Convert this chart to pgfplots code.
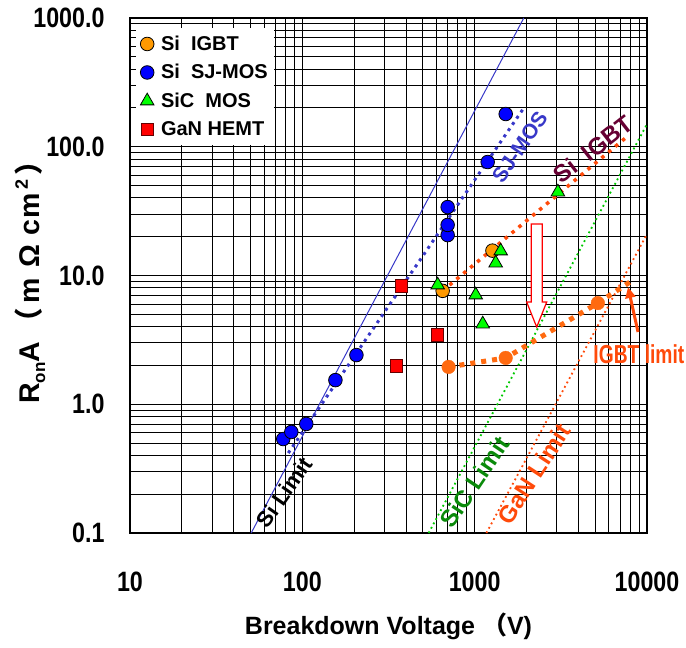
\documentclass[border=0pt]{standalone}
\usepackage{fontspec}
\setmainfont{Liberation Sans}
\newfontfamily\narrowfont{Liberation Sans}[FakeStretch=0.83]
\newfontfamily\narrowerfont{Liberation Sans}[FakeStretch=0.74]
\newfontfamily\cjk{Noto Sans CJK JP}
\usepackage{pgfplots}
\pgfplotsset{compat=1.18}
\usetikzlibrary{arrows.meta}
\definecolor{igbt}{HTML}{FF9900}
\definecolor{sjblue}{HTML}{0000FF}
\definecolor{linblue}{HTML}{3838C8}
\definecolor{sicgreen}{HTML}{00FF00}
\definecolor{sicline}{HTML}{00C800}
\definecolor{sictext}{HTML}{0A8A0A}
\definecolor{ganred}{HTML}{FF0000}
\definecolor{orline}{HTML}{FF4A0A}
\definecolor{limorange}{HTML}{FF6A10}
\definecolor{maroonc}{HTML}{660033}
\begin{document}
\begin{tikzpicture}
\begin{axis}[
  xmode=log, ymode=log,
  xmin=10, xmax=10000, ymin=0.1, ymax=1000,
  scale only axis, width=517pt, height=515pt,
  xtick={10,100,1000,10000}, xticklabels={10,100,1000,10000},
  ytick={0.1,1,10,100,1000}, yticklabels={0.1,1.0,10.0,100.0,1000.0},
  grid=both,
  major grid style={black, line width=1pt},
  minor grid style={black, line width=1pt},
  major tick length=0pt, minor tick length=0pt,
  axis line style={black, line width=1.2pt},
  /pgf/number format/assume math mode=true,
  ticklabel style={font=\narrowfont\bfseries\fontsize{28}{30}\selectfont},
  xticklabel style={yshift=-35pt},
  yticklabel style={xshift=-22pt},
  xlabel={Breakdown Voltage {\cjk （}V)},
  ylabel={R\raisebox{-0.35ex}{\fontsize{17}{18}\selectfont on}A\hspace{5pt}{\cjk （}\hspace{5pt}m\hspace{10pt}Ω\hspace{10pt}c\hspace{1pt}m\hspace{3pt}\raisebox{0.8ex}{\fontsize{18}{19}\selectfont 2}\hspace{4pt}{\cjk ）}},
  label style={font=\bfseries\fontsize{25}{28}\selectfont},
  xlabel style={at={(axis description cs:0.5,-0.198)}, anchor=base},
  ylabel style={at={(axis description cs:-0.193,0.5)}, anchor=center, font=\bfseries\fontsize{28.5}{30}\selectfont},
  clip=false,
  legend style={at={(0.012,0.981)}, anchor=north west, draw=none, fill=white,
    font=\bfseries\fontsize{20}{23}\selectfont, row sep=8.5pt, column sep=5pt, inner xsep=4pt, inner ysep=6pt},
  legend cell align=left,
]
% hollow arrow
\addplot[red, line width=1.2pt, fill=white, forget plot] coordinates {(2128,25.1) (2466,25.1) (2466,6.22) (2618,6.22) (2291,3.98) (2004,6.22) (2128,6.22)} -- cycle;
% Si limit
\addplot[linblue, line width=1pt, forget plot] coordinates {(50.5,0.1) (1928,1000)};
% SJ-MOS trend
\addplot[linblue, line width=3pt, dash pattern=on 3pt off 4.5pt, forget plot] coordinates {(82.9,0.418) (1928,200)};
% SiC limit
\addplot[sicline, line width=1.8pt, dash pattern=on 1.8pt off 3.2pt, forget plot] coordinates {(541,0.1) (10000,150)};
% GaN limit
\addplot[orline, line width=1.8pt, dash pattern=on 1.8pt off 3.2pt, forget plot] coordinates {(1170,0.1) (10000,21)};
% Si IGBT trend
\addplot[orline, line width=3.5pt, dash pattern=on 3.5pt off 5.5pt, forget plot] coordinates {(652,7.6) (7852,123)};
% IGBT limit
\addplot[limorange, line width=5pt, dash pattern=on 5pt off 6pt, forget plot] coordinates {(706,1.95) (1514,2.29) (5188,6.11) (7960,8.9)};
\addplot[limorange, only marks, mark=*, mark size=6.8pt, forget plot] coordinates {(706,1.95) (1514,2.29) (5188,6.11)};
\draw[orline, line width=3pt, -{Triangle[length=11pt,width=10pt]}] (axis cs:8870,3.64) -- (axis cs:7765,8.14);
% data
\addplot[only marks, mark=*, mark size=6.8pt, mark options={fill=igbt, draw=black, line width=0.8pt}] coordinates {(1268,15.6) (652,7.6)};
\addlegendentry{Si\ \ IGBT}
\addplot[only marks, mark=*, mark size=6.8pt, mark options={fill=sjblue, draw=black, line width=0.8pt}] coordinates {(77.5,0.537) (86.3,0.609) (105.4,0.703) (155.6,1.54) (206,2.41) (697,20.6) (697,24.7) (697,34.0) (1190,76.1) (1514,179.6)};
\addlegendentry{Si\ \ SJ-MOS}
\addplot[only marks, mark=triangle*, mark size=7.8pt, mark options={fill=sicgreen, draw=black, line width=0.8pt}] coordinates {(610,8.44) (1416,15.5) (1324,12.5) (3041,44.5) (1014,7.06) (1114,4.2)};
\addlegendentry{SiC\ \ MOS}
\addplot[only marks, mark=square*, mark size=6.2pt, mark options={fill=ganred, draw=black!60!red, line width=0.8pt}] coordinates {(376.6,8.3) (610,3.45) (352,1.98)};
\addlegendentry{GaN HEMT}
% annotations
\node[rotate=55, text=black, font=\bfseries\fontsize{22}{24}\selectfont] at (axis cs:78.5,0.208) {Si Limit};
\node[rotate=55, text=linblue, font=\bfseries\fontsize{21}{24}\selectfont] at (axis cs:1826,99.6) {SJ-MOS};
\node[rotate=38, text=maroonc, font=\bfseries\fontsize{24}{26}\selectfont] at (axis cs:4853,96) {Si\ \ IGBT};
\node[text=orline, font=\narrowerfont\bfseries\fontsize{26}{28}\selectfont] at (axis cs:8975,2.456) {IGBT limit};
\node[rotate=56, text=sictext, font=\bfseries\fontsize{24}{26}\selectfont] at (axis cs:1000,0.249) {SiC Limit};
\node[rotate=57, text=orline, font=\bfseries\fontsize{24}{26}\selectfont] at (axis cs:2203,0.287) {GaN Limit};
\end{axis}
\pgfresetboundingbox
\useasboundingbox (-130pt,-115pt) rectangle (556pt,533pt);
\end{tikzpicture}
\end{document}
